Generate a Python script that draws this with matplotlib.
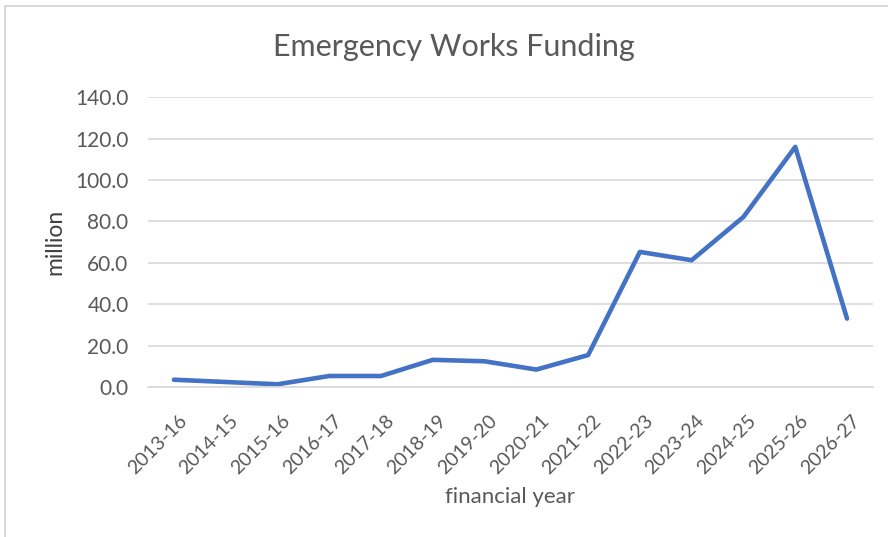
import matplotlib.pyplot as plt
from matplotlib.patches import Rectangle
from matplotlib.transforms import ScaledTranslation

plt.rcParams['font.family'] = ['Lato', 'DejaVu Sans']

years = ['2013-16', '2014-15', '2015-16', '2016-17', '2017-18', '2018-19', '2019-20',
         '2020-21', '2021-22', '2022-23', '2023-24', '2024-25', '2025-26', '2026-27']
funding = [3.6, 2.5, 1.4, 5.4, 5.4, 13.2, 12.5, 8.5, 15.5, 65.3, 61.3, 82.2, 116.0, 33.1]

grey = '#595959'

fig = plt.figure(figsize=(8.88, 5.37), dpi=100)
ax = fig.add_axes([0.1667, 0.279, 0.8163, 0.540])

# light frame round the whole chart
fig.patches.append(Rectangle((0.006, -0.01), 1.0, 0.999, transform=fig.transFigure,
                             fill=False, edgecolor='#d9d9d9', linewidth=1.5))

x = list(range(len(years)))
ax.plot(x, funding, color='#4472C4', linewidth=3.3, solid_joinstyle='round',
        solid_capstyle='round')

ax.set_xlim(-0.5, len(years) - 0.5)
ax.set_ylim(0, 140)
ax.set_yticks(range(0, 141, 20))
ax.set_yticklabels(['%.1f' % v for v in range(0, 141, 20)])
ax.set_xticks(x)
ax.set_xticklabels(years, rotation=45, ha='right', va='top', rotation_mode='anchor')

ax.yaxis.grid(True, color='#d9d9d9', linewidth=1.2)
ax.set_axisbelow(True)
for side in ['top', 'right', 'left']:
    ax.spines[side].set_visible(False)
ax.spines['bottom'].set_color('#d9d9d9')
ax.spines['bottom'].set_linewidth(1.2)
ax.tick_params(axis='y', length=0, labelsize=15, colors=grey, pad=14)
ax.tick_params(axis='x', length=0, labelsize=14, colors=grey, pad=18)

# nudge rotated year labels a little to the right
shift = ScaledTranslation(3 / 72, 0, fig.dpi_scale_trans)
for lbl in ax.get_xticklabels():
    lbl.set_transform(lbl.get_transform() + shift)

fig.text(0.511, 0.912, 'Emergency Works Funding', fontsize=22, color=grey,
         ha='center', va='center')
ax.set_ylabel('million', fontsize=16.5, color='#404040', va='center')
ax.yaxis.set_label_coords(-0.128, 0.5)
ax.set_xlabel('financial year', fontsize=16, color=grey, va='center')
ax.xaxis.set_label_coords(0.5, -0.379)

fig.savefig('out.png', dpi=100)
